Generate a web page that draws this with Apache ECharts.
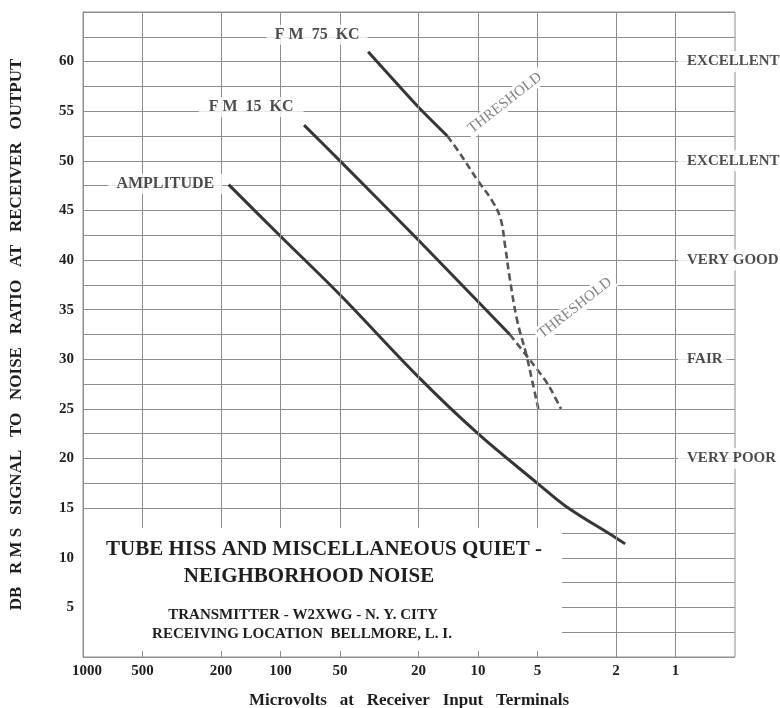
<!DOCTYPE html>
<html><head><meta charset="utf-8">
<script src="https://cdn.jsdelivr.net/npm/echarts@6/dist/echarts.min.js"></script>
<style>html,body{margin:0;padding:0;background:#fff}#c{width:780px;height:708px}</style>
</head><body><div id="c"></div>
<script>
// ---- data ----
const xTicks = [1000, 500, 200, 100, 50, 20, 10, 5, 2, 1];
const yTicks = [5, 10, 15, 20, 25, 30, 35, 40, 45, 50, 55, 60];
const qualityLevels = [60, 50, 40, 30, 20];
const qualityNames = ['EXCELLENT', 'EXCELLENT', 'VERY GOOD', 'FAIR', 'VERY POOR'];
const curveNames = ['F M  75  KC', 'F M  15  KC', 'AMPLITUDE'];

const amX = [183, 100, 50, 20, 10, 5, 3.6, 2.0, 1.8];
const amY = [47.6, 42.4, 36.5, 28.2, 22.5, 17.5, 15.2, 12.0, 11.4];

const fm15X = [76, 50, 20, 6.9];
const fm15Y = [53.6, 50.0, 42.0, 32.5];
const fm15dX = [6.9, 5.3, 4.4, 3.8];
const fm15dY = [32.5, 29.6, 27.4, 25.0];

const fm75X = [36, 20, 14.3];
const fm75Y = [61, 55.4, 52.5];
const fm75dX = [14.3, 12.4, 10.1, 8.5, 7.7, 7.3, 6.95, 6.35, 5.7, 5.3, 4.95];
const fm75dY = [52.5, 50.8, 48.1, 46.0, 44.2, 41.5, 38.5, 34.0, 30.5, 27.7, 25.0];

const titleLines = ['TUBE HISS AND MISCELLANEOUS QUIET -', 'NEIGHBORHOOD NOISE',
  'TRANSMITTER - W2XWG - N. Y. CITY', 'RECEIVING LOCATION  BELLMORE, L. I.'];
const thresholdText = 'THRESHOLD';
const xTitle = 'Microvolts   at   Receiver   Input   Terminals';
const yTitle = 'DB   R M S   SIGNAL   TO   NOISE   RATIO   AT   RECEIVER   OUTPUT';

// ---- build ----
const zip = (xs, ys) => xs.map((x, i) => [x, ys[i]]);
const FONT = "'Liberation Serif', 'DejaVu Serif', serif";
const INK = '#1e1e1e';
const GRID = '#8e8e8e';

const solid = { color: '#363636', width: 3 };
const dashed = { color: '#555555', width: 2.6, type: [7, 4] };

const lblBase = { show: true, fontFamily: FONT, fontWeight: 'bold', fontSize: 16, color: INK,
  backgroundColor: '#fff', padding: [2, 8, 2, 8] };

const option = {
  animation: false,
  backgroundColor: '#fff',
  grid: { left: 83, right: 45, top: 12, bottom: 51, show: true, borderColor: GRID, borderWidth: 1,
    containLabel: false, outerBoundsMode: 'none' },
  xAxis: {
    type: 'log', logBase: 10, inverse: true, min: 0.5, max: 1000,
    axisLine: { show: false }, axisTick: { show: false }, axisLabel: { show: false },
    splitLine: { show: false }, minorSplitLine: { show: false },
    name: xTitle, nameLocation: 'middle', nameGap: 35,
    nameTextStyle: { fontFamily: FONT, fontWeight: 'bold', fontSize: 17, color: INK }
  },
  yAxis: {
    type: 'value', min: 0, max: 65, interval: 2.5,
    axisLine: { show: true, lineStyle: { color: GRID } },
    axisTick: { show: false },
    splitLine: { show: true, lineStyle: { color: GRID, width: 1 } },
    axisLabel: { fontFamily: FONT, fontWeight: 'bold', fontSize: 15, color: INK, margin: 9,
      formatter: v => (yTicks.indexOf(v) >= 0 ? String(v) : '') },
    name: yTitle, nameLocation: 'middle', nameGap: 58, nameRotate: 90,
    nameTextStyle: { fontFamily: FONT, fontWeight: 'bold', fontSize: 17, color: INK }
  },
  series: [
    { type: 'line', z: 1, data: [], silent: true,
      markLine: { silent: true, symbol: ['none', 'none'], animation: false,
        lineStyle: { color: GRID, width: 1, type: 'solid' },
        label: { show: true, position: 'start', distance: 7, fontFamily: FONT, fontWeight: 'bold',
          fontSize: 15, color: INK, formatter: p => String(p.value) },
        emphasis: { disabled: true },
        data: xTicks.map((v, i) => (i === 0 ? { xAxis: v, label: { offset: [4, 0] } } : { xAxis: v })) } },
    { type: 'line', z: 3, name: curveNames[2], data: zip(amX, amY), showSymbol: false, symbol: 'none', smooth: 0.35, lineStyle: solid, silent: true },
    { type: 'line', z: 3, name: curveNames[1], data: zip(fm15X, fm15Y), showSymbol: false, symbol: 'none', smooth: 0.2, lineStyle: solid, silent: true },
    { type: 'line', z: 3, name: curveNames[1] + ' threshold', data: zip(fm15dX, fm15dY), showSymbol: false, symbol: 'none', smooth: 0.2, lineStyle: dashed, silent: true },
    { type: 'line', z: 3, name: curveNames[0], data: zip(fm75X, fm75Y), showSymbol: false, symbol: 'none', smooth: 0.2, lineStyle: solid, silent: true },
    { type: 'line', z: 3, name: curveNames[0] + ' threshold', data: zip(fm75dX, fm75dY), showSymbol: false, symbol: 'none', smooth: 0.4, lineStyle: dashed, silent: true },
    { type: 'scatter', z: 5, symbolSize: 1, itemStyle: { color: 'rgba(0,0,0,0)' }, silent: true,
      data: [
        { value: [fm75X[0], fm75Y[0]], name: curveNames[0], label: Object.assign({}, lblBase, { position: 'left', distance: 0, offset: [0, -17] }) },
        { value: [fm15X[0], fm15Y[0]], name: curveNames[1], label: Object.assign({}, lblBase, { position: 'left', distance: 0, offset: [0, -18], padding: [2, 10, 2, 10] }) },
        { value: [amX[0], amY[0]], name: curveNames[2], label: Object.assign({}, lblBase, { position: 'left', distance: 6, offset: [0, -1], padding: [2, 8, 2, 8] }) }
      ],
      label: { formatter: '{b}' } },
    { type: 'scatter', z: 5, symbolSize: 1, itemStyle: { color: 'rgba(0,0,0,0)' }, silent: true,
      data: qualityLevels.map((y, i) => ({ value: [xTicks[xTicks.length - 1], y], name: qualityNames[i] })),
      label: { show: true, position: 'right', distance: 2, formatter: '{b}', fontFamily: FONT, fontWeight: 'bold',
        fontSize: 15, color: INK, backgroundColor: '#fff', padding: [3, 4, 3, 9] } }
  ],
  graphic: [
    { type: 'rect', z: 100, silent: true, shape: { x: 84, y: 528, width: 478, height: 123 }, style: { fill: '#fff' } },
    { type: 'text', z: 101, silent: true, x: 324, y: 550, style: { text: titleLines[0], font: "bold 21px " + FONT, fill: INK, textAlign: 'center', textVerticalAlign: 'middle' } },
    { type: 'text', z: 101, silent: true, x: 309, y: 577, style: { text: titleLines[1], font: "bold 21px " + FONT, fill: INK, textAlign: 'center', textVerticalAlign: 'middle' } },
    { type: 'text', z: 101, silent: true, x: 303, y: 615, style: { text: titleLines[2], font: "bold 15px " + FONT, fill: INK, textAlign: 'center', textVerticalAlign: 'middle' } },
    { type: 'text', z: 101, silent: true, x: 302, y: 634, style: { text: titleLines[3], font: "bold 15px " + FONT, fill: INK, textAlign: 'center', textVerticalAlign: 'middle' } },
    { type: 'text', z: 101, silent: true, x: 505, y: 103, rotation: 38 * Math.PI / 180, style: { text: thresholdText, font: "15px " + FONT, fill: '#858585', textAlign: 'center', textVerticalAlign: 'middle', backgroundColor: '#fff', padding: [1, 3] } },
    { type: 'text', z: 101, silent: true, x: 575, y: 308, rotation: 38 * Math.PI / 180, style: { text: thresholdText, font: "15px " + FONT, fill: '#858585', textAlign: 'center', textVerticalAlign: 'middle', backgroundColor: '#fff', padding: [1, 3] } }
  ]
};
const chart = echarts.init(document.getElementById('c'), null, { renderer: 'canvas' });
chart.setOption(option);
</script></body></html>
